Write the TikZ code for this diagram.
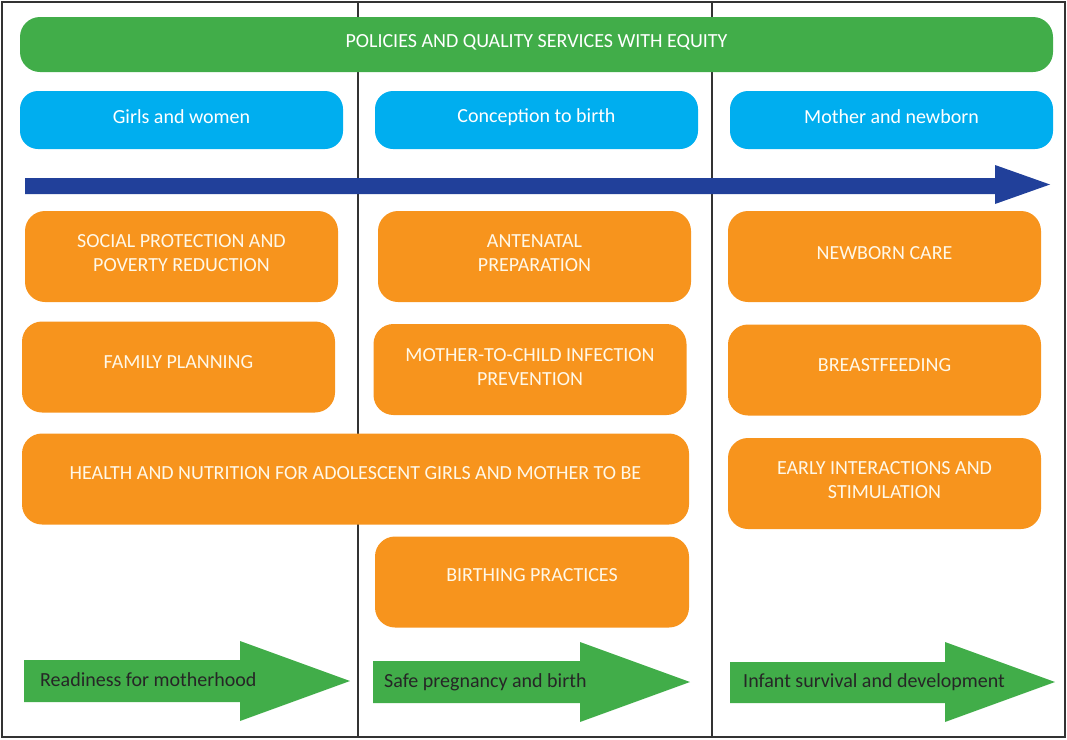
\documentclass[tikz,border=0pt]{standalone}
\usepackage{fontspec}
\setmainfont{Carlito}
\definecolor{cgreen}{HTML}{41AD49}
\definecolor{cblue}{HTML}{00AEEF}
\definecolor{cdblue}{HTML}{21409A}
\definecolor{corange}{HTML}{F7941D}
\definecolor{ctext}{HTML}{FFF8E8}
\definecolor{cframe}{HTML}{333333}
\begin{document}
\begin{tikzpicture}[x=1pt,y=-1pt,
  gbar/.style={fill=cgreen,rounded corners=20pt,inner sep=0pt},
  bbox/.style={fill=cblue,rounded corners=18pt,inner sep=0pt,minimum width=323pt,minimum height=58pt},
  obox/.style={fill=corange,rounded corners=20pt,inner sep=0pt,minimum width=313pt,minimum height=91pt},
  wtext/.style={inner sep=0pt,text=white,font=\fontsize{20}{24}\selectfont},
  otext/.style={inner sep=0pt,text=ctext,align=center,font=\fontsize{20}{24}\selectfont},
  atext/.style={anchor=west,inner sep=0pt,text=black!85,font=\fontsize{20}{24}\selectfont},
  frame/.style={draw=cframe,line width=1.5pt}]
\useasboundingbox (0,0) rectangle (1067,739);
% frame
\draw[frame] (2,2) rectangle (1065,737);
\coordinate (l1t) at (358,2); \coordinate (l1b) at (358,737);
\coordinate (l2t) at (712,2); \coordinate (l2b) at (712,737);
\draw[frame] (l1t) -- (l1b);
\draw[frame] (l2t) -- (l2b);
% top bar
\node[gbar,minimum width=1033pt,minimum height=55pt] (pol) at (536.5,44.5) {};
\node[wtext] (polt) at ([yshift=2pt]pol.center) {POLICIES AND QUALITY SERVICES WITH EQUITY};
% blue boxes
\node[bbox] (girls) at (181.5,120) {};
\node[wtext] (girlst) at ([yshift=3pt]girls.center) {Girls and women};
\node[bbox] (conc) at (536.5,120) {};
\node[wtext] (conct) at ([yshift=3pt]conc.center) {Conception to birth};
\node[bbox] (moth) at (891.5,120) {};
\node[wtext] (motht) at ([yshift=3pt]moth.center) {Mother and newborn};
% timeline arrow
\fill[cdblue] (25,178) -- (995,178) -- (995,165) -- (1050,184.5) -- (995,204) -- (995,194) -- (25,194) -- cycle;
% orange boxes
\node[obox] (soc) at (181.5,256.5) {};
\node[otext] (soct) at ([yshift=3pt]soc.center) {SOCIAL PROTECTION AND\\POVERTY REDUCTION};
\node[obox] (ante) at (534.5,256.5) {};
\node[otext] (antet) at ([yshift=3pt]ante.center) {ANTENATAL\\PREPARATION};
\node[obox] (newb) at (884.5,256.5) {};
\node[otext] (newbt) at ([yshift=3pt]newb.center) {NEWBORN CARE};
\node[obox] (fam) at (178.5,367) {};
\node[otext] (famt) at ([yshift=5pt]fam.center) {FAMILY PLANNING};
\node[obox] (mtc) at (530,369.5) {};
\node[otext] (mtct) at ([yshift=2pt]mtc.center) {MOTHER-TO-CHILD INFECTION\\PREVENTION};
\node[obox] (brf) at (884.5,370) {};
\node[otext] (brft) at ([yshift=5pt]brf.center) {BREASTFEEDING};
\node[obox,minimum width=667pt] (hn) at (355.5,479) {};
\node[otext] (hnt) at ([yshift=6pt]hn.center) {HEALTH AND NUTRITION FOR ADOLESCENT GIRLS AND MOTHER TO BE};
\node[obox] (early) at (884.5,483.5) {};
\node[otext] (earlyt) at ([yshift=3pt]early.center) {EARLY INTERACTIONS AND\\STIMULATION};
\node[obox,minimum width=314pt] (birth) at (532,582) {};
\node[otext] (birtht) at ([yshift=7pt]birth.center) {BIRTHING PRACTICES};
% bottom green arrows
\fill[cgreen] (24,660) -- (240,660) -- (240,641) -- (350,681) -- (240,721) -- (240,702) -- (24,702) -- cycle;
\node[atext] (r1) at (40,680) {Readiness for motherhood};
\fill[cgreen] (373,661) -- (580,661) -- (580,642) -- (690,682) -- (580,722) -- (580,703) -- (373,703) -- cycle;
\node[atext] (r2) at (384,682) {Safe pregnancy and birth};
\fill[cgreen] (730,662) -- (945,662) -- (945,642) -- (1055,682) -- (945,722) -- (945,703) -- (730,703) -- cycle;
\node[atext] (r3) at (743,682) {Infant survival and development};
\end{tikzpicture}
\end{document}
